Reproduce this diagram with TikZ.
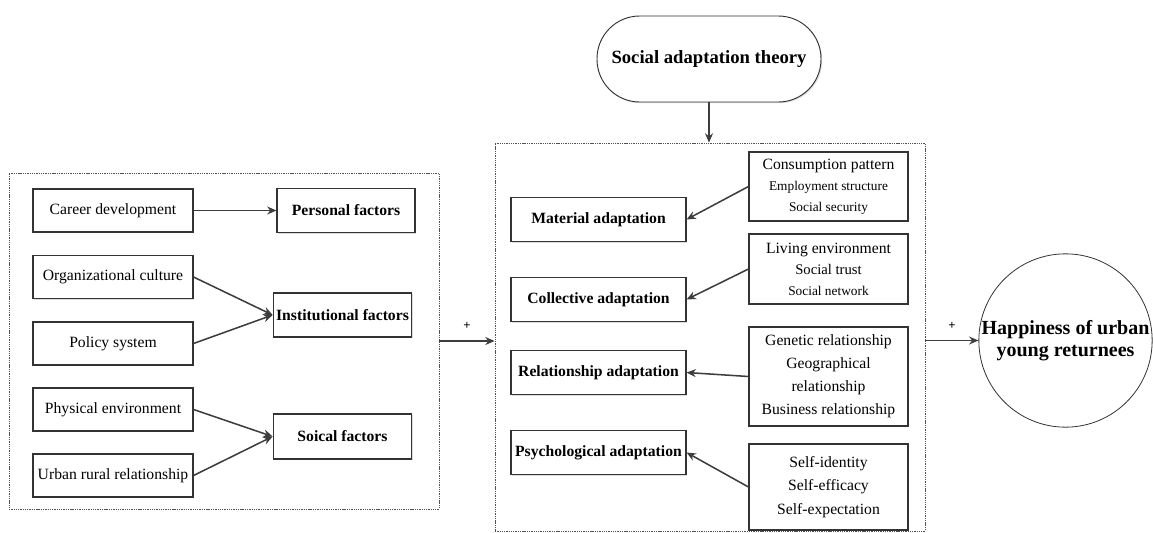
\documentclass[tikz,border=0pt]{standalone}
\usepackage{fontspec}
\setmainfont{Liberation Serif}
\usetikzlibrary{arrows.meta,fit,shadows}
\definecolor{linegray}{HTML}{333333}
\tikzset{
  boxshadow/.style={drop shadow={shadow xshift=0.9pt, shadow yshift=-0.9pt, opacity=0.3, fill=black!45}},
  factorbox/.style={draw=linegray, line width=0.8pt, fill=white, inner sep=1pt,
    minimum width=120pt, minimum height=32.25pt, boxshadow,
    font=\fontsize{11.75}{14}\selectfont},
  headbox/.style={factorbox, minimum width=104pt, minimum height=33pt,
    font=\fontsize{11.75}{14}\selectfont\bfseries},
  adaptbox/.style={factorbox, minimum width=131.25pt, minimum height=33pt,
    font=\fontsize{11.75}{14}\selectfont\bfseries},
  itembox/.style={factorbox, minimum width=119.25pt, align=center,
    font=\fontsize{10}{15.75}\selectfont},
  grp/.style={draw=linegray!85, line width=0.6pt, dash pattern=on 1pt off 0.7pt, inner sep=0pt},
  conn/.style={draw=linegray!95, line width=1.15pt, -{Stealth[length=7pt,width=6pt]}},
  plus/.style={font=\fontsize{9.5}{9.5}\selectfont\bfseries, inner sep=1pt}
}
\begin{document}
\begin{tikzpicture}[x=0.75pt, y=-0.75pt]
  \useasboundingbox (0,0) rectangle (1153,532);
  % dashed groups
  \node[grp, fit={(9,173) (439,509)}] (leftgrp) {};
  \node[grp, fit={(495,143) (925,531)}] (midgrp) {};
  % theory on top
  \node[draw=linegray, line width=0.7pt, rounded corners=32pt, minimum width=168pt,
    minimum height=64.5pt, boxshadow, fill=white, font=\fontsize{14}{16}\selectfont\bfseries]
    (theory) at (709,59) {Social adaptation theory};
  % left side
  \node[factorbox] (career) at (113,210.5) {Career development};
  \node[factorbox] (orgcult) at (113,277) {Organizational culture};
  \node[factorbox] (policy) at (113,343.5) {Policy system};
  \node[factorbox] (physenv) at (113,409.5) {Physical environment};
  \node[factorbox] (urbrural) at (113,475.5) {Urban rural relationship};
  \node[headbox, minimum width=103.5pt] (personal) at (346,210.5) {Personal factors};
  \node[headbox] (instfac) at (342.5,315) {Institutional factors};
  \node[headbox, minimum height=33.75pt] (socfac) at (342.5,436.5) {Soical factors};
  \draw[conn] (career) -- (personal);
  \draw[conn] (orgcult.east) -- (instfac.west);
  \draw[conn] (policy.east) -- (instfac.west);
  \draw[conn] (physenv.east) -- (socfac.west);
  \draw[conn] (urbrural.east) -- (socfac.west);
  % middle
  \node[adaptbox] (matadapt) at (598.5,219.5) {Material adaptation};
  \node[adaptbox] (coladapt) at (598.5,299.5) {Collective adaptation};
  \node[adaptbox] (reladapt) at (598.5,372.5) {Relationship adaptation};
  \node[adaptbox] (psyadapt) at (598.5,452.5) {Psychological adaptation};
  \node[itembox, minimum height=51.75pt] (matitems) at (828.5,186.5)
    {{\fontsize{11.75}{14}\selectfont Consumption pattern}\\Employment structure\\Social security};
  \node[itembox, minimum height=52.5pt] (colitems) at (828.5,269)
    {{\fontsize{11.75}{14}\selectfont Living environment}\\{\fontsize{11}{14}\selectfont Social trust}\\Social network};
  \node[itembox, minimum height=74.25pt, font=\fontsize{11.75}{17.25}\selectfont] (relitems) at (828.5,376.5)
    {Genetic relationship\\Geographical\\relationship\\Business relationship};
  \node[itembox, minimum height=64.5pt, font=\fontsize{11.75}{17.5}\selectfont] (psyitems) at (828.5,487)
    {Self-identity\\Self-efficacy\\Self-expectation};
  \draw[conn] (matitems.west) -- (matadapt.east);
  \draw[conn] (colitems.west) -- (coladapt.east);
  \draw[conn] (relitems.west) -- (reladapt.east);
  \draw[conn] (psyitems.west) -- (psyadapt.east);
  % outcome
  \node[circle, draw=linegray, line width=0.6pt, minimum size=130pt, inner sep=0pt,
    label={[font=\fontsize{15}{17}\selectfont\bfseries, align=center]center:Happiness of urban\\young returnees}]
    (happy) at (1065.5,340.5) {};
  \draw[conn] (theory.south) -- (theory.south |- midgrp.north);
  \draw[conn] (leftgrp.east) -- (leftgrp.east -| midgrp.west) node[plus, midway, above=7pt] {+};
  \draw[conn] (happy.west -| midgrp.east) -- (happy.west) node[plus, midway, above=7pt] {+};
\end{tikzpicture}
\end{document}
